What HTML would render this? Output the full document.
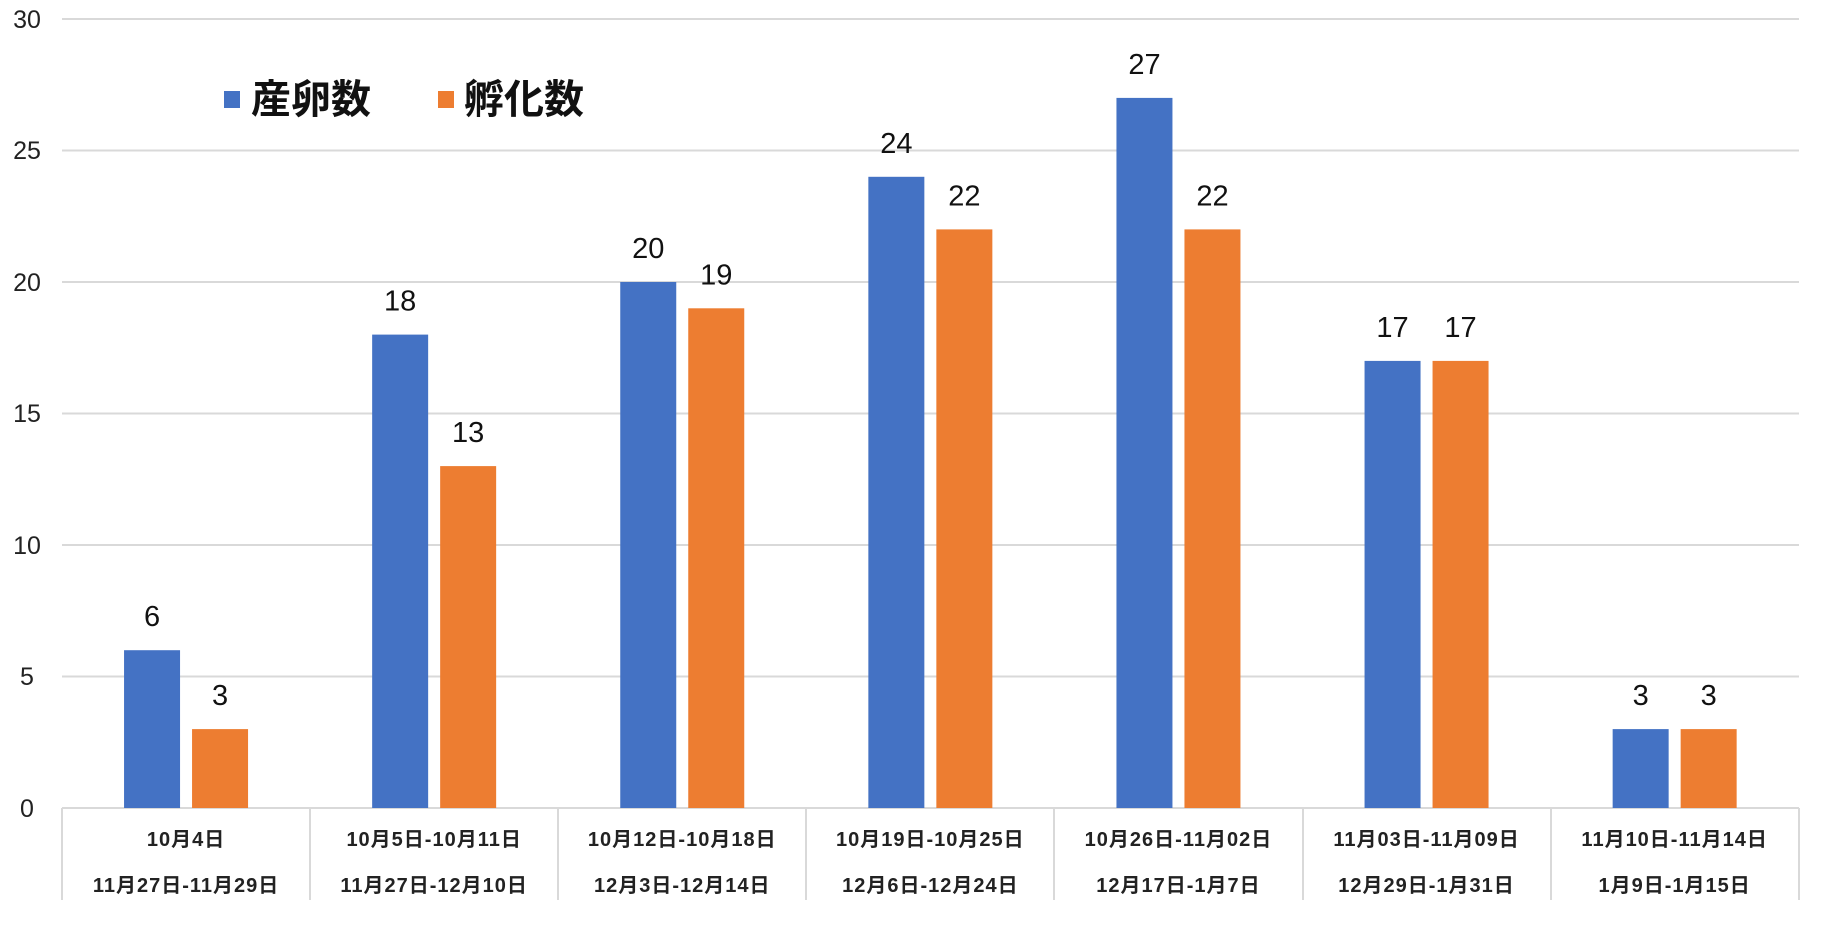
<!DOCTYPE html>
<html><head><meta charset="utf-8"><style>
html,body{margin:0;padding:0;background:#fff;}
svg{display:block;}
</style></head><body>
<svg width="1827" height="941" xmlns="http://www.w3.org/2000/svg" font-family="'Liberation Sans','Noto Sans CJK JP',sans-serif">
<rect width="1827" height="941" fill="#fff"/>
<g stroke="#d9d9d9" stroke-width="2">
<line x1="62" y1="19" x2="1799" y2="19"/>
<line x1="62" y1="150.5" x2="1799" y2="150.5"/>
<line x1="62" y1="282" x2="1799" y2="282"/>
<line x1="62" y1="413.5" x2="1799" y2="413.5"/>
<line x1="62" y1="545" x2="1799" y2="545"/>
<line x1="62" y1="676.5" x2="1799" y2="676.5"/>
<line x1="62" y1="808" x2="1799" y2="808"/>
<line x1="62" y1="808" x2="62" y2="900"/>
<line x1="310" y1="808" x2="310" y2="900"/>
<line x1="558" y1="808" x2="558" y2="900"/>
<line x1="806" y1="808" x2="806" y2="900"/>
<line x1="1054" y1="808" x2="1054" y2="900"/>
<line x1="1303" y1="808" x2="1303" y2="900"/>
<line x1="1551" y1="808" x2="1551" y2="900"/>
<line x1="1799" y1="808" x2="1799" y2="900"/>
</g>
<g font-size="25" fill="#222" text-anchor="middle">
<text x="27" y="28">30</text><text x="27" y="159">25</text><text x="27" y="291">20</text>
<text x="27" y="422">15</text><text x="27" y="554">10</text><text x="27" y="685">5</text><text x="27" y="817">0</text>
</g>
<g id="bars"></g>
<g font-size="20" font-weight="bold" fill="#222" text-anchor="middle" letter-spacing="1" id="cats"></g>
<g font-size="29" fill="#111" text-anchor="middle" id="vals"></g>
<rect x="224" y="91" width="16" height="17" fill="#4472c4"/>
<text x="251" y="113" font-size="40" font-weight="bold" fill="#111">産卵数</text>
<rect x="438" y="91" width="16" height="17" fill="#ed7d31"/>
<text x="464" y="113" font-size="40" font-weight="bold" fill="#111">孵化数</text>
<script>
var a=[6,18,20,24,27,17,3],b=[3,13,19,22,22,17,3];
var l1=["10月4日","10月5日-10月11日","10月12日-10月18日","10月19日-10月25日","10月26日-11月02日","11月03日-11月09日","11月10日-11月14日"];
var l2=["11月27日-11月29日","11月27日-12月10日","12月3日-12月14日","12月6日-12月24日","12月17日-1月7日","12月29日-1月31日","1月9日-1月15日"];
var NS="http://www.w3.org/2000/svg",bars=document.getElementById("bars"),cats=document.getElementById("cats"),vals=document.getElementById("vals");
function el(p,t,at,txt){var e=document.createElementNS(NS,t);for(var k in at)e.setAttribute(k,at[k]);if(txt!=null)e.textContent=txt;p.appendChild(e);}
for(var i=0;i<7;i++){var c=62+248.1*(i+0.5);
var ya=808-a[i]*26.3,yb=808-b[i]*26.3;
el(bars,"rect",{x:c-62,y:ya,width:56,height:808-ya,fill:"#4472c4"});
el(bars,"rect",{x:c+6,y:yb,width:56,height:808-yb,fill:"#ed7d31"});
el(vals,"text",{x:c-34,y:ya-24},a[i]);
el(vals,"text",{x:c+34,y:yb-24},b[i]);
el(cats,"text",{x:c,y:846},l1[i]);
el(cats,"text",{x:c,y:892},l2[i]);}
</script>
</svg>
</body></html>
